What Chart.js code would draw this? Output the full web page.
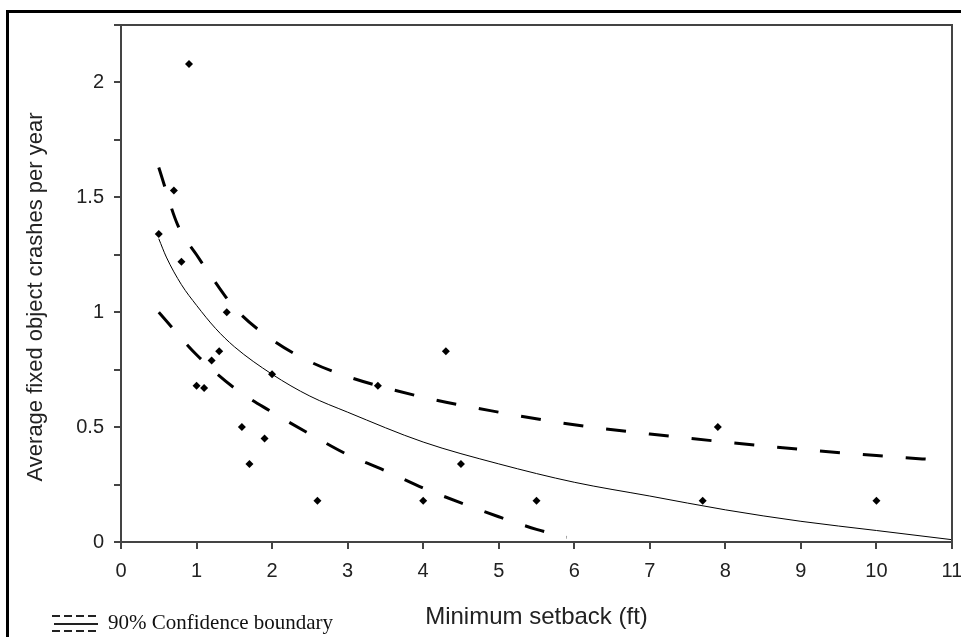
<!DOCTYPE html>
<html>
<head>
<meta charset="utf-8">
<script src="https://cdn.jsdelivr.net/npm/chart.js@4.4.1/dist/chart.umd.min.js"></script>
<style>
  body { margin: 0; background: #fff; }
  #wrap { position: relative; width: 961px; height: 637px; overflow: hidden; background: #fff; }
  #marco { position: absolute; left: 6px; top: 10px; width: 1000px; height: 700px;
           border-top: 3px solid #000; border-left: 3px solid #000; }
  #leyenda { position: absolute; left: 108px; top: 610px; font: 21px "Liberation Serif", "Times New Roman", serif; color: #111; }
  canvas { position: absolute; left: 0; top: 0; }
</style>
</head>
<body>
<div id="wrap">
  <div id="marco"></div>
  <canvas id="grafica" width="961" height="637"></canvas>
  <div id="leyenda">90% Confidence boundary</div>
</div>
<script>
// puntos observados
const setback = [0.5, 0.7, 0.8, 0.9, 1.0, 1.1, 1.2, 1.3, 1.4, 1.6, 1.7, 1.9, 2.0, 2.6, 3.4, 4.0, 4.3, 4.5, 5.5, 7.7, 7.9, 10];
const choques = [1.34, 1.53, 1.22, 2.08, 0.68, 0.67, 0.79, 0.83, 1.0, 0.5, 0.34, 0.45, 0.73, 0.18, 0.68, 0.18, 0.83, 0.34, 0.18, 0.18, 0.5, 0.18];

// curva ajustada
const ajusteX = [0.5, 0.6, 0.8, 1, 1.25, 1.5, 2, 2.5, 3, 4, 5, 6, 7, 8, 9, 10, 11];
const ajusteY = [1.32, 1.24, 1.12, 1.03, 0.93, 0.85, 0.73, 0.635, 0.565, 0.435, 0.34, 0.26, 0.2, 0.14, 0.09, 0.05, 0.01];

// limites de confianza 90%
const superiorX = [0.5, 0.75, 1, 1.25, 1.5, 2, 2.5, 3, 4, 5, 6, 7, 8, 9, 10, 10.9];
const superiorY = [1.63, 1.38, 1.25, 1.13, 1.02, 0.88, 0.785, 0.72, 0.63, 0.565, 0.51, 0.47, 0.435, 0.403, 0.376, 0.355];
const inferiorX = [0.5, 1, 1.5, 2, 2.5, 3, 3.5, 4, 4.5, 5, 5.5, 5.9];
const inferiorY = [1.0, 0.815, 0.67, 0.565, 0.47, 0.38, 0.31, 0.235, 0.17, 0.11, 0.055, 0.02];

const xTicks = [0, 1, 2, 3, 4, 5, 6, 7, 8, 9, 10, 11];
const yLabels = [0, 0.5, 1, 1.5, 2];
const tituloY = 'Average fixed object crashes per year';

const pares = (xs, ys) => xs.map((x, i) => ({ x: x, y: ys[i] }));

const gris = '#444';
const familia = '"Liberation Sans", Arial, sans-serif';
const fuenteEje = { family: familia, size: 20 };

// caja del grafico, titulo del eje y y simbolo de la leyenda
const cajaPlugin = {
  id: 'caja',
  afterDraw(chart) {
    const { ctx, chartArea } = chart;
    ctx.save();
    ctx.strokeStyle = gris;
    ctx.lineWidth = 2;
    ctx.strokeRect(chartArea.left, chartArea.top, chartArea.right - chartArea.left, chartArea.bottom - chartArea.top);

    // titulo vertical, un poco por debajo del centro como en el original
    ctx.fillStyle = '#222';
    ctx.font = '22px ' + familia;
    ctx.textAlign = 'center';
    ctx.textBaseline = 'middle';
    ctx.translate(36, 297);
    ctx.rotate(-Math.PI / 2);
    ctx.fillText(tituloY, 0, 0);
    ctx.setTransform(1, 0, 0, 1, 0, 0);

    ctx.strokeStyle = '#222';
    ctx.lineWidth = 2;
    ctx.setLineDash([8, 4]);
    ctx.beginPath();
    ctx.moveTo(52, 616); ctx.lineTo(98, 616);
    ctx.moveTo(52, 631); ctx.lineTo(98, 631);
    ctx.stroke();
    ctx.setLineDash([]);
    ctx.beginPath();
    ctx.moveTo(54, 624); ctx.lineTo(98, 624);
    ctx.stroke();
    ctx.restore();
  }
};

new Chart(document.getElementById('grafica'), {
  type: 'scatter',
  data: {
    datasets: [
      {
        label: 'Observado',
        data: pares(setback, choques),
        pointStyle: 'rectRot',
        pointRadius: 4,
        backgroundColor: '#000',
        borderColor: '#000',
        borderWidth: 0
      },
      {
        label: 'Ajuste',
        data: pares(ajusteX, ajusteY),
        showLine: true,
        cubicInterpolationMode: 'monotone',
        borderColor: '#000',
        borderWidth: 1,
        pointRadius: 0
      },
      {
        label: 'Superior',
        data: pares(superiorX, superiorY),
        showLine: true,
        cubicInterpolationMode: 'monotone',
        borderColor: '#000',
        borderWidth: 3,
        borderDash: [20, 23],
        pointRadius: 0
      },
      {
        label: 'Inferior',
        data: pares(inferiorX, inferiorY),
        showLine: true,
        cubicInterpolationMode: 'monotone',
        borderColor: '#000',
        borderWidth: 3,
        borderDash: [20, 23],
        pointRadius: 0
      }
    ]
  },
  options: {
    responsive: false,
    animation: false,
    layout: { autoPadding: false, padding: { top: 25, right: 9, left: 0, bottom: 0 } },
    plugins: {
      legend: { display: false },
      tooltip: { enabled: false }
    },
    scales: {
      x: {
        type: 'linear',
        min: 0,
        max: 11,
        afterFit: (scale) => {
          scale.height = 95;
          // el "11" puede salirse del area, como en el original
          scale.paddingLeft = 0;
          scale.paddingRight = 0;
        },
        afterBuildTicks: (scale) => { scale.ticks = xTicks.map(v => ({ value: v })); },
        ticks: { font: fuenteEje, color: '#222', padding: 10, maxRotation: 0 },
        grid: { drawOnChartArea: false, tickLength: 7, color: gris, lineWidth: 2 },
        border: { display: true, color: gris, width: 2 },
        title: {
          display: true,
          text: 'Minimum setback (ft)',
          font: { family: familia, size: 24 },
          color: '#222',
          padding: { top: 0, bottom: 5 }
        }
      },
      y: {
        min: 0,
        max: 2.25,
        afterFit: (scale) => {
          scale.width = 121;
          scale.paddingTop = 0;
          scale.paddingBottom = 0;
        },
        ticks: {
          stepSize: 0.25,
          font: fuenteEje,
          color: '#222',
          padding: 10,
          callback: (v) => yLabels.some(l => Math.abs(l - v) < 1e-6) ? String(v) : ''
        },
        grid: { drawOnChartArea: false, tickLength: 7, color: gris, lineWidth: 2 },
        border: { display: true, color: gris, width: 2 }
      }
    }
  },
  plugins: [cajaPlugin]
});
</script>
</body>
</html>
